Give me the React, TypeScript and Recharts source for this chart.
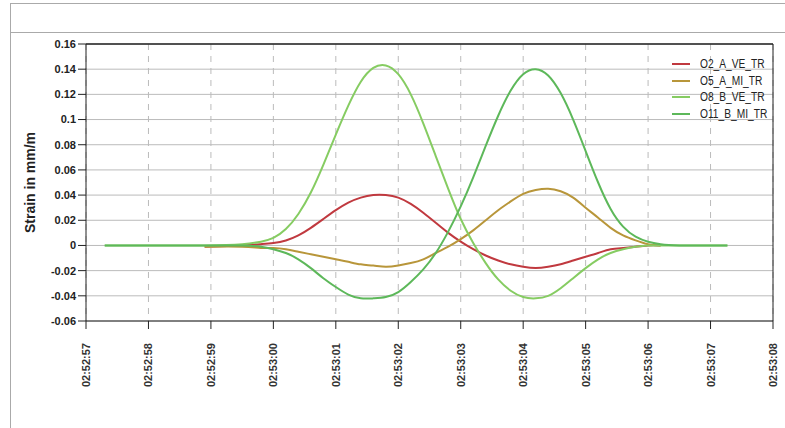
import React from "react";
import { LineChart, Line, XAxis, YAxis, CartesianGrid, ReferenceLine } from "recharts";

const times = [0.3, 1, 1.9, 2.5, 2.8, 3.0, 3.2, 3.4, 3.6, 3.8, 4.0, 4.2, 4.4, 4.6, 4.8, 5.0, 5.2, 5.4, 5.6, 5.8, 6.0, 6.2, 6.4, 6.6, 6.8, 7.0, 7.2, 7.4, 7.6, 7.8, 8.0, 8.2, 8.4, 8.6, 8.8, 9.0, 9.2, 9.5, 10.27];
const o2 = [null, null, -0.001, 0, 0.001, 0.002, 0.004, 0.008, 0.014, 0.021, 0.028, 0.034, 0.038, 0.04, 0.04, 0.038, 0.033, 0.026, 0.018, 0.01, 0.003, -0.003, -0.008, -0.012, -0.015, -0.017, -0.018, -0.017, -0.015, -0.012, -0.009, -0.006, -0.003, -0.002, -0.001, 0, 0, null, null];
const o5 = [null, null, -0.001, -0.001, -0.002, -0.002, -0.003, -0.005, -0.007, -0.009, -0.011, -0.013, -0.015, -0.016, -0.017, -0.016, -0.014, -0.011, -0.006, -0.001, 0.005, 0.012, 0.02, 0.028, 0.035, 0.041, 0.044, 0.045, 0.043, 0.038, 0.03, 0.022, 0.014, 0.008, 0.004, 0.001, 0, null, null];
const o8 = [0, 0, 0, 0.001, 0.003, 0.006, 0.013, 0.025, 0.042, 0.064, 0.088, 0.111, 0.13, 0.141, 0.143, 0.136, 0.12, 0.097, 0.071, 0.045, 0.021, 0.002, -0.014, -0.027, -0.036, -0.041, -0.042, -0.04, -0.034, -0.026, -0.018, -0.011, -0.006, -0.003, -0.001, 0, 0, 0, 0];
const o11 = [0, 0, 0, 0, -0.001, -0.003, -0.006, -0.011, -0.018, -0.026, -0.033, -0.039, -0.042, -0.042, -0.041, -0.037, -0.029, -0.019, -0.006, 0.011, 0.031, 0.054, 0.079, 0.103, 0.123, 0.136, 0.14, 0.135, 0.121, 0.1, 0.075, 0.05, 0.029, 0.015, 0.007, 0.003, 0.001, 0, 0];
const xTicks = [0, 1, 2, 3, 4, 5, 6, 7, 8, 9, 10, 11];
const xLabels = ["02:52:57", "02:52:58", "02:52:59", "02:53:00", "02:53:01", "02:53:02", "02:53:03", "02:53:04", "02:53:05", "02:53:06", "02:53:07", "02:53:08"];
const yTicks = [-0.06, -0.04, -0.02, 0, 0.02, 0.04, 0.06, 0.08, 0.1, 0.12, 0.14, 0.16];
const series = [
  { key: "o2", name: "O2_A_VE_TR", color: "#c0393f" },
  { key: "o5", name: "O5_A_MI_TR", color: "#b8963a" },
  { key: "o8", name: "O8_B_VE_TR", color: "#86cc62" },
  { key: "o11", name: "O11_B_MI_TR", color: "#5db85a" },
];

const data = times.map((t, i) => ({ t, o2: o2[i], o5: o5[i], o8: o8[i], o11: o11[i] }));

const XTick = (props: any) => {
  const { x, y, payload } = props;
  return (
    <text x={x + 4} y={y + 12} transform={`rotate(-90 ${x + 4} ${y + 12})`} textAnchor="end" fontSize={11} fontWeight="bold" fill="#333" fontFamily="Liberation Sans, Arial">
      {xLabels[payload.value]}
    </text>
  );
};

export default function App() {
  return (
    <div style={{ position: "absolute", left: 0, top: 0, width: 785, height: 428, background: "#fff", fontFamily: "Liberation Sans, Arial" }}>
      <div style={{ position: "absolute", left: 10, top: 3, width: 790, height: 430, border: "1px solid #aaa", boxSizing: "border-box" }} />
      <div style={{ position: "absolute", left: 10, top: 32, width: 790, height: 1, background: "#aaa" }} />
      <div style={{ position: "absolute", left: 0, top: 0 }}>
        <LineChart width={785} height={428} data={data} margin={{ top: 44, right: 12, bottom: 0, left: 14 }}>
          <CartesianGrid stroke="#bbb" horizontal={true} vertical={false} />
          <CartesianGrid stroke="#bbb" horizontal={false} vertical={true} strokeDasharray="6 6" />
          <XAxis dataKey="t" type="number" domain={[0, 11]} ticks={xTicks} tick={<XTick />} height={107} stroke="#222" tickSize={8} interval={0} />
          <YAxis type="number" domain={[-0.06, 0.16]} ticks={yTicks} width={72} stroke="#222" tickSize={8} interval={0}
            tick={{ fontSize: 11, fill: "#222", fontWeight: "bold" }}
            tickFormatter={(v: number) => String(Math.round(v * 100) / 100)}
            label={{ value: "Strain in mm/m", angle: -90, position: "insideLeft", offset: 16, style: { fontSize: 14, fontWeight: "bold", fill: "#222", textAnchor: "middle" } }} />
          <ReferenceLine y={0.16} stroke="#222" strokeWidth={1.5} />
          <ReferenceLine x={11} stroke="#222" />
          {series.map((s) => (
            <Line key={s.key} dataKey={s.key} stroke={s.color} strokeWidth={2} dot={false} type="natural" isAnimationActive={false} connectNulls={false} />
          ))}
        </LineChart>
      </div>
      <div style={{ position: "absolute", left: 672, top: 56, fontSize: 12, color: "#222", lineHeight: "16.5px" }}>
        {series.map((s) => (
          <div key={s.key} style={{ display: "flex", alignItems: "center" }}>
            <span style={{ display: "inline-block", width: 18, height: 2, background: s.color, marginRight: 10 }} />
            <span style={{ transform: "scaleX(0.85)", transformOrigin: "left" }}>{s.name}</span>
          </div>
        ))}
      </div>
    </div>
  );
}
